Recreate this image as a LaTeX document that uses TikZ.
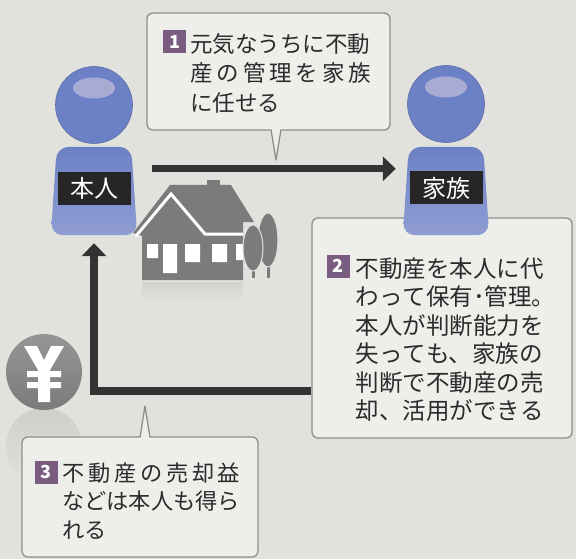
\documentclass[tikz,border=0pt]{standalone}
\usepackage{fontspec}
\setmainfont{Noto Sans CJK JP}
\usetikzlibrary{arrows.meta,positioning,fadings}

\definecolor{paper}{HTML}{E1E1DD}
\definecolor{boxfill}{HTML}{EEEEEB}
\definecolor{boxline}{HTML}{8E8E8E}
\definecolor{ink}{HTML}{2B2B2B}
\definecolor{badgepurple}{HTML}{7A5C80}
\definecolor{figblue}{HTML}{6C81C5}
\definecolor{figlight}{HTML}{8F9DD3}
\definecolor{headshine}{HTML}{A8ACD4}
\definecolor{tagdark}{HTML}{262626}
\definecolor{icongray}{HTML}{7B7B7B}
\definecolor{arrowdark}{HTML}{333333}

% a line of Japanese text spread over the whole text width
\newcommand{\spreadline}[1]{{\XeTeXlinebreaklocale "ja"\XeTeXlinebreakskip=0pt plus 1fil\parfillskip=0pt\relax #1\par}}

\begin{document}
\begin{tikzpicture}[x=1pt, y=-1pt,
  callout/.style={draw=boxline, line width=1.3pt, fill=boxfill, rounded corners=6pt, inner sep=0pt},
  tail/.style={draw=boxline, line width=1.3pt, line join=round},
  badge/.style={fill=badgepurple, text=white, minimum size=23pt, inner sep=0pt, font=\fontsize{18}{18}\selectfont\bfseries},
  txt/.style={anchor=base west, inner sep=0pt, text=ink},
  bodybox/.style={minimum width=86pt, minimum height=88pt, inner sep=0pt},
  bodyshade/.style={rounded corners=12pt, top color=figblue, bottom color=figlight},
  fighead/.style={circle, minimum size=77pt, inner sep=0pt, fill=figblue, draw=figblue!85!black, line width=0.6pt},
  tag/.style={fill=tagdark, text=white, minimum width=73pt, minimum height=33pt, inner sep=0pt, font=\fontsize{24}{24}\selectfont},
  arr/.style={draw=arrowdark, line width=7pt, -{Triangle[length=13pt, width=24pt]}},
  backarr/.style={draw=arrowdark, line width=8pt, -{Triangle[length=13pt, width=24pt]}},
]
  \fill[paper] (0,0) rectangle (576,559);
  \useasboundingbox (0,0) rectangle (576,559);

  % faint mirror images under the coin and the house
  \fill[icongray, opacity=.18, path fading=south] (44,446) circle (38);
  \fill[icongray, opacity=.15, path fading=south] (142,282) rectangle (243,300);

  % callout boxes
  \node[callout, minimum width=243pt, minimum height=117pt] (box1) at (268.5,71.5) {};
  \node[callout, minimum width=260pt, minimum height=220pt] (box2) at (442,328) {};
  \node[callout, minimum width=236pt, minimum height=120pt] (box3) at (140,497) {};

  % tails of the callouts
  \fill[boxfill] (270.6,131) -- (276,160) -- (281.4,131) -- (281.4,127) -- (270.6,127) -- cycle;
  \draw[tail] (271,129.5) -- (276,160) -- (281,129.5);
  \fill[boxfill] (139.6,438) -- (145,406) -- (150.4,438) -- (150.4,441) -- (139.6,441) -- cycle;
  \draw[tail] (140,437.5) -- (145,406) -- (150,437.5);

  % texts
  \node[badge] (b1) at (174.5,41.5) {1};
  \node[txt, text width=181pt, font=\fontsize{22.5}{29.5}\selectfont] (t1) at (190,52.5)
    {元気なうちに不動\par\spreadline{産の管理を家族}に任せる\par};
  \node[badge] (b2) at (338,266) {2};
  \node[txt, text width=205pt, font=\fontsize{23.5}{28.5}\selectfont] (t2) at (355.5,277)
    {不動産を本人に代\par わって保有･管理。\par 本人が判断能力を\par 失っても、家族の\par 判断で不動産の売\par 却、活用ができる\par};
  \node[badge] (b3) at (46,472) {3};
  \node[txt, text width=178pt, font=\fontsize{22.2}{28.5}\selectfont] (t3) at (62,481)
    {\spreadline{不動産の売却益}などは本人も得ら\par れる\par};

  % the house with two trees
  \begin{scope}[fill=icongray]
    \fill (207,180) rectangle (220,196);
    \fill (133,233) -- (170,185) -- (231,185) -- (254,222) -- (243,222) -- (243,280) -- (142,280) -- (142,236) -- cycle;
    \fill[white] (147,244) rectangle (158,258) (163,244) rectangle (177,273)
      (185,244) rectangle (200,262) (212,244) rectangle (227,262) (236,244) rectangle (243,260);
    \draw[white, line width=3pt] (136,236) -- (171,194) -- (205,234) -- (243,234);
    \draw[icongray, line width=3pt] (253,262) -- (253,278) (268,258) -- (268,278);
    \filldraw[draw=paper, line width=1pt] (268,240) ellipse [x radius=10pt, y radius=27pt];
    \filldraw[draw=paper, line width=1pt] (253,248) ellipse [x radius=10pt, y radius=23pt];
  \end{scope}

  % yen coin
  \node[circle, minimum size=76pt, inner sep=0pt, top color=icongray!80!white, bottom color=icongray] (yen) at (44,372) {};
  \fill[white] (24,346) -- (37,346) -- (44,360) -- (51,346) -- (64,346) -- (50,370) -- (50,402) -- (38,402) -- (38,370) -- cycle;
  \fill[white] (27,371) rectangle (61,377) (27,382) rectangle (61,388);

  % the two persons
  \node[bodybox] (hbody) at (94,191) {};
  \shade[bodyshade] (hbody.south west) -- ([xshift=6pt]hbody.north west) -- ([xshift=-6pt]hbody.north east) -- (hbody.south east) -- cycle;
  \node[fighead] (hhead) at (94,105) {};
  \fill[headshine] ([yshift=17pt]hhead.center) ellipse [x radius=21pt, y radius=10.5pt];
  \node[tag] (htag) at ([yshift=2.5pt]hbody.center) {本人};

  \node[bodybox] (kbody) at (446,191) {};
  \shade[bodyshade] (kbody.south west) -- ([xshift=6pt]kbody.north west) -- ([xshift=-6pt]kbody.north east) -- (kbody.south east) -- cycle;
  \node[fighead] (khead) at (446,104) {};
  \fill[headshine] ([yshift=17pt]khead.center) ellipse [x radius=21pt, y radius=10.5pt];
  \node[tag] (ktag) at ([yshift=3pt]kbody.center) {家族};

  % arrows
  \draw[arr] ([xshift=15pt,yshift=-22pt]hbody.north east) -- ([xshift=-7pt,yshift=-22pt]kbody.north west);
  \draw[backarr] (box2.west |- 0,391) -| ([yshift=-8pt]hbody.south);
\end{tikzpicture}
\end{document}
